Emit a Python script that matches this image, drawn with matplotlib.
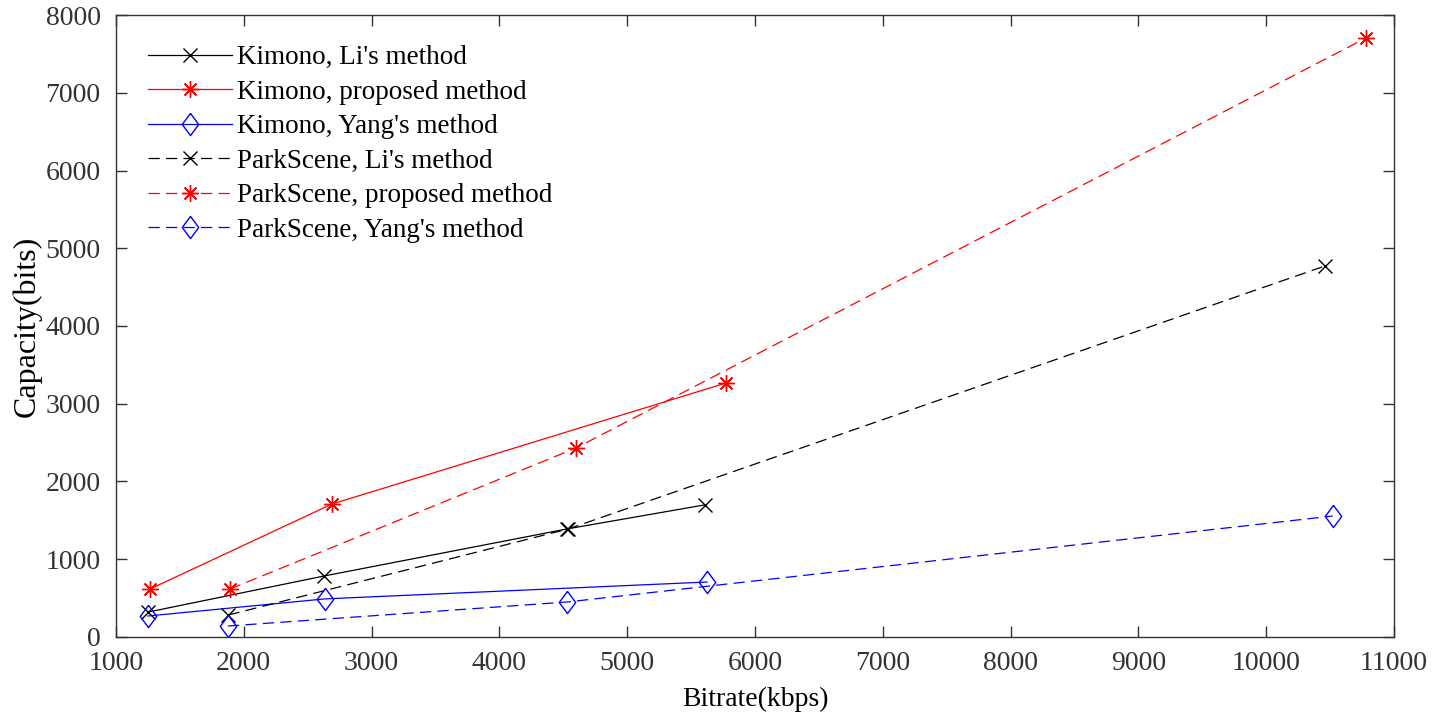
# Capacity vs bitrate for Kimono and ParkScene sequences
import matplotlib
matplotlib.use("Agg")
import matplotlib.pyplot as plt

plt.rcParams['font.family'] = ['Liberation Serif', 'DejaVu Serif']

# Kimono sequence
kim_li_x = [1250, 2630, 4530, 5610]
kim_li_y = [320, 785, 1390, 1700]
kim_prop_x = [1270, 2690, 5770]
kim_prop_y = [620, 1710, 3265]
kim_yang_x = [1250, 2635, 5625]
kim_yang_y = [270, 490, 707]

# ParkScene sequence
park_li_x = [1880, 4540, 10460]
park_li_y = [283, 1390, 4772]
park_prop_x = [1892, 4600, 10780]
park_prop_y = [617, 2431, 7704]
park_yang_x = [1876, 4530, 10520]
park_yang_y = [141, 450, 1556]

fig = plt.figure(figsize=(14.48, 7.25), dpi=100)
ax = fig.add_axes([0.0801, 0.1214, 0.8826, 0.8579])

lw = 0.9
dash = (9, 5)
star = (8, 2, 0)
# wider diamond like the MATLAB one
diamond = [(0, 1), (0.74, 0), (0, -1), (-0.74, 0), (0, 1)]

ax.plot(kim_li_x, kim_li_y, color='k', lw=lw, marker='x', ms=10, mew=1,
        label="Kimono, Li's method")
ax.plot(kim_prop_x, kim_prop_y, color='r', lw=lw, marker=star, ms=12, mew=1,
        label="Kimono, proposed method")
ax.plot(kim_yang_x, kim_yang_y, color='b', lw=lw, marker=diamond, ms=16, mew=1,
        mfc='none', label="Kimono, Yang's method")
ax.plot(park_li_x, park_li_y, color='k', lw=lw, ls=(0, dash), marker='x', ms=10, mew=1,
        label="ParkScene, Li's method")
ax.plot(park_prop_x, park_prop_y, color='r', lw=lw, ls=(0, dash), marker=star, ms=12, mew=1,
        label="ParkScene, proposed method")
ax.plot(park_yang_x, park_yang_y, color='b', lw=lw, ls=(0, dash), marker=diamond, ms=16, mew=1,
        mfc='none', label="ParkScene, Yang's method")

ax.set_xlim(1000, 11000)
ax.set_ylim(0, 8000)
ax.set_xticks(range(1000, 11001, 1000))
ax.set_yticks(range(0, 8001, 1000))
ax.tick_params(direction='in', top=True, right=True, labelsize=20, length=8,
               width=1, color='#333333', labelcolor='#333333')
ax.tick_params(axis='x', pad=10)
ax.tick_params(axis='y', pad=11)
for s in ax.spines.values():
    s.set_color('#333333')
    s.set_linewidth(1)

ax.set_xlabel('Bitrate(kbps)', fontsize=20, labelpad=8)
ax.set_ylabel('Capacity(bits)', fontsize=23, labelpad=3)

ax.legend(loc='upper left', frameon=False, fontsize=19.5, handlelength=3.1,
          handletextpad=0.2, labelspacing=0.35, borderaxespad=0.3,
          bbox_to_anchor=(0.01, 0.982))

fig.savefig('out.png', dpi=100)
